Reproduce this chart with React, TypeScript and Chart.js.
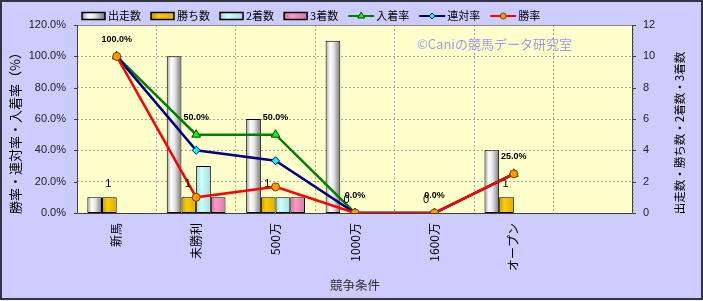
import React, { useEffect, useRef } from "react";
import { Chart, registerables } from "chart.js";

Chart.register(...registerables);

const FONT = "'Liberation Sans', 'Noto Sans CJK JP', sans-serif";
const JP_FONT = "'Noto Sans CJK JP', 'Liberation Sans', sans-serif";

const categories = ["新馬", "未勝利", "500万", "1000万", "1600万", "オープン", ""];
const seriesLabels = ["出走数", "勝ち数", "2着数", "3着数", "入着率", "連対率", "勝率"];
const runs = [1, 10, 6, 11, 0, 4, null];
const wins = [1, 1, 1, 0, 0, 1, null];
const seconds = [0, 3, 1, 0, 0, 0, null];
const thirds = [0, 1, 1, 0, 0, 0, null];
const placeRate = [1.0, 0.5, 0.5, 0, 0, 0.25, null];
const quinellaRate = [1.0, 0.4, 0.3333, 0, 0, 0.25, null];
const winRate = [1.0, 0.1, 0.1667, 0, 0, 0.25, null];
const rateTicks = [0, 0.2, 0.4, 0.6, 0.8, 1.0, 1.2];
const countTicks = [0, 2, 4, 6, 8, 10, 12];

const leftTitle = "勝率・連対率・入着率（%）";
const rightTitle = "出走数・勝ち数・2着数・3着数";
const xTitle = "競争条件";
const watermark = "©Caniの競馬データ研究室";

const CAT_PCT = 0.74;

type Stops = [number, string][];
const RUN_STOPS: Stops = [[0, "#9a9a9a"], [0.3, "#ffffff"], [0.55, "#e4e4e4"], [1, "#767676"]];
const WIN_STOPS: Stops = [[0, "#c49800"], [0.35, "#ffcc00"], [1, "#dcac00"]];
const SECOND_STOPS: Stops = [[0, "#9fd8d8"], [0.35, "#ccffff"], [1, "#a6dcdc"]];
const THIRD_STOPS: Stops = [[0, "#c8709a"], [0.35, "#ff99cc"], [1, "#d47aa6"]];
const BAR_STOPS = [RUN_STOPS, WIN_STOPS, SECOND_STOPS, THIRD_STOPS];

const LINE_STYLES = [
  { color: "#008000", point: "triangle", fill: "#00ff00", stroke: "#004000", r: 5 },
  { color: "#000080", point: "rectRot", fill: "#00ffff", stroke: "#000080", r: 4 },
  { color: "#ff0000", point: "circle", fill: "#ff9900", stroke: "#804000", r: 4 },
];

function barFill(stops: Stops) {
  return (c: any) => {
    const chart = c.chart;
    const xs = chart.scales?.x;
    if (!xs || c.type !== "data" || !xs.width) return stops[1][1];
    const cw = xs.width / categories.length;
    const bw = (cw * CAT_PCT) / 4;
    const center = xs.getPixelForValue(c.dataIndex);
    const left = center - (cw * CAT_PCT) / 2 + c.datasetIndex * bw;
    const g = chart.ctx.createLinearGradient(left, 0, left + bw, 0);
    stops.forEach(([o, col]) => g.addColorStop(o, col));
    return g;
  };
}

function drawMarker(ctx: CanvasRenderingContext2D, style: string, x: number, y: number, r: number, fill: string, stroke: string) {
  ctx.beginPath();
  if (style === "triangle") {
    ctx.moveTo(x, y - r);
    ctx.lineTo(x + r * 0.866, y + r * 0.5);
    ctx.lineTo(x - r * 0.866, y + r * 0.5);
    ctx.closePath();
  } else if (style === "rectRot") {
    ctx.moveTo(x, y - r);
    ctx.lineTo(x + r, y);
    ctx.lineTo(x, y + r);
    ctx.lineTo(x - r, y);
    ctx.closePath();
  } else {
    ctx.arc(x, y, r, 0, Math.PI * 2);
  }
  ctx.fillStyle = fill;
  ctx.fill();
  ctx.lineWidth = 1;
  ctx.strokeStyle = stroke;
  ctx.stroke();
}

const decorPlugin = {
  id: "decor",
  beforeDraw(chart: any) {
    const { ctx, width, height, chartArea: a } = chart;
    ctx.save();
    ctx.fillStyle = "#ccccff";
    ctx.fillRect(0, 0, width, height);
    ctx.fillStyle = "#ffffcc";
    ctx.fillRect(a.left, a.top, a.right - a.left, a.bottom - a.top);
    ctx.restore();
  },
  beforeDatasetsDraw(chart: any) {
    const { ctx, chartArea: a, scales } = chart;
    ctx.save();
    ctx.lineWidth = 1;
    ctx.strokeStyle = "#8a8a8a";
    ctx.beginPath();
    ctx.moveTo(a.left, a.top + 0.5);
    ctx.lineTo(a.right, a.top + 0.5);
    ctx.stroke();
    ctx.strokeStyle = "#404040";
    ctx.beginPath();
    ctx.moveTo(a.left + 0.5, a.top);
    ctx.lineTo(a.left + 0.5, a.bottom + 0.5);
    ctx.lineTo(a.right - 0.5, a.bottom + 0.5);
    ctx.lineTo(a.right - 0.5, a.top);
    ctx.stroke();
    ctx.beginPath();
    rateTicks.forEach((v) => {
      const y = Math.round(scales.y.getPixelForValue(v)) + 0.5;
      ctx.moveTo(a.left - 3, y);
      ctx.lineTo(a.left, y);
    });
    countTicks.forEach((v) => {
      const y = Math.round(scales.y1.getPixelForValue(v)) + 0.5;
      ctx.moveTo(a.right, y);
      ctx.lineTo(a.right + 3, y);
    });
    ctx.stroke();
    ctx.font = `13px ${JP_FONT}`;
    ctx.fillStyle = "#979ff0";
    ctx.textBaseline = "middle";
    ctx.textAlign = "left";
    ctx.fillText(watermark, 417, 44);
    ctx.fillStyle = "#000";
    ctx.textAlign = "center";
    ctx.save();
    ctx.font = `13px ${JP_FONT}`;
    ctx.translate(15, 130);
    ctx.rotate(-Math.PI / 2);
    ctx.fillText(leftTitle, 0, 0);
    ctx.restore();
    ctx.save();
    ctx.font = `11.5px ${JP_FONT}`;
    ctx.translate(680, 133);
    ctx.rotate(-Math.PI / 2);
    ctx.fillText(rightTitle, 0, 0);
    ctx.restore();
    ctx.restore();
  },
  afterDatasetsDraw(chart: any) {
    const { ctx } = chart;
    ctx.save();
    ctx.textAlign = "center";
    ctx.textBaseline = "middle";
    ctx.fillStyle = "#000";
    const winMeta = chart.getDatasetMeta(1);
    ctx.font = `11px ${FONT}`;
    wins.forEach((v, i) => {
      if (v === null) return;
      const el = winMeta.data[i];
      ctx.fillText(String(v), el.x - 1, el.y - 13);
    });
    const placeMeta = chart.getDatasetMeta(4);
    ctx.font = `bold 9px ${FONT}`;
    placeRate.forEach((v, i) => {
      if (v === null) return;
      const el = placeMeta.data[i];
      ctx.fillText((v * 100).toFixed(1) + "%", el.x, el.y - 17);
    });
    ctx.restore();
  },
  afterDraw(chart: any) {
    const { ctx, width, height } = chart;
    ctx.save();
    const cy = 16;
    let x = 82;
    ctx.font = `11px ${JP_FONT}`;
    ctx.textBaseline = "middle";
    ctx.textAlign = "left";
    chart.data.datasets.forEach((ds: any, i: number) => {
      if (i < 4) {
        const g = ctx.createLinearGradient(x, 0, x + 23, 0);
        BAR_STOPS[i].forEach(([o, c]) => g.addColorStop(o, c));
        ctx.fillStyle = g;
        ctx.fillRect(x, cy - 3.5, 23, 7);
        ctx.strokeStyle = "#000";
        ctx.lineWidth = 1.5;
        ctx.strokeRect(x, cy - 3.5, 23, 7);
        x += 26;
      } else {
        const s = LINE_STYLES[i - 4];
        ctx.strokeStyle = s.color;
        ctx.lineWidth = 2;
        ctx.beginPath();
        ctx.moveTo(x, cy);
        ctx.lineTo(x + 26, cy);
        ctx.stroke();
        drawMarker(ctx, s.point, x + 13, cy, s.r - 1, s.fill, s.stroke);
        x += 28;
      }
      ctx.fillStyle = "#000";
      ctx.fillText(ds.label, x, cy);
      x += ctx.measureText(ds.label).width + 10;
    });
    ctx.fillStyle = "#f4f4fa";
    ctx.fillRect(0, height - 1, width, 1);
    ctx.strokeStyle = "#34343e";
    ctx.lineWidth = 2;
    ctx.strokeRect(1, 1, width - 2, height - 3);
    ctx.restore();
  },
};

export default function App() {
  const ref = useRef<HTMLCanvasElement>(null);
  useEffect(() => {
    document.body.style.margin = "0";
    const canvas = ref.current;
    if (!canvas) return;
    Chart.defaults.font.family = FONT;
    const barBorder = (c: any) => (c.raw ? 1 : 0);
    const barData = [runs, wins, seconds, thirds];
    const barDatasets = barData.map((d, i) => ({
      type: "bar" as const,
      label: seriesLabels[i],
      data: d,
      yAxisID: "y1",
      backgroundColor: barFill(BAR_STOPS[i]),
      borderColor: "#000",
      borderWidth: barBorder,
      borderSkipped: false,
      categoryPercentage: CAT_PCT,
      barPercentage: 1,
      order: 10,
    }));
    const lineData = [placeRate, quinellaRate, winRate];
    const lineDatasets = lineData.map((d, i) => {
      const s = LINE_STYLES[i];
      return {
        type: "line" as const,
        label: seriesLabels[4 + i],
        data: d,
        yAxisID: "y",
        borderColor: s.color,
        borderWidth: 2.5,
        tension: 0,
        pointStyle: s.point,
        pointRadius: s.r,
        pointBackgroundColor: s.fill,
        pointBorderColor: s.stroke,
        pointBorderWidth: 1,
        order: 3 - i,
      };
    });
    const chart = new Chart(canvas, {
      type: "bar",
      data: { labels: categories, datasets: [...barDatasets, ...lineDatasets] as any },
      options: {
        responsive: false,
        animation: false,
        events: [],
        layout: { padding: { top: 25, left: 0, right: 0, bottom: 0 } },
        plugins: { legend: { display: false }, tooltip: { enabled: false } },
        scales: {
          x: {
            offset: true,
            grid: { offset: true, color: "#a8a8a8", drawTicks: false },
            border: { display: false, dash: [2, 2] },
            ticks: { autoSkip: false, minRotation: 90, maxRotation: 90, padding: 10, color: "#000", font: { size: 12, family: JP_FONT } },
            title: { display: true, text: xTitle, color: "#333", font: { size: 12.5, family: JP_FONT }, padding: { top: 0, bottom: 8 } },
            afterFit: (s: any) => { s.height = 88; },
          },
          y: {
            position: "left",
            min: rateTicks[0],
            max: rateTicks[rateTicks.length - 1],
            afterBuildTicks: (s: any) => { s.ticks = rateTicks.map((v) => ({ value: v })); },
            ticks: { callback: (v: any) => (Number(v) * 100).toFixed(1) + "%", padding: 11, color: "#222", font: { size: 11 } },
            grid: { color: "#a8a8a8", drawTicks: false },
            border: { display: false, dash: [2, 2] },
            afterFit: (s: any) => { s.width = 77; },
          },
          y1: {
            position: "right",
            min: countTicks[0],
            max: countTicks[countTicks.length - 1],
            afterBuildTicks: (s: any) => { s.ticks = countTicks.map((v) => ({ value: v })); },
            ticks: { padding: 10, color: "#222", font: { size: 11 } },
            grid: { display: false, drawTicks: false },
            border: { display: false },
            afterFit: (s: any) => { s.width = 70; },
          },
        },
      },
      plugins: [decorPlugin],
    });
    return () => chart.destroy();
  }, []);
  return (
    <div style={{ width: 703, height: 301 }}>
      <canvas ref={ref} width={703} height={301} style={{ display: "block" }} />
    </div>
  );
}
